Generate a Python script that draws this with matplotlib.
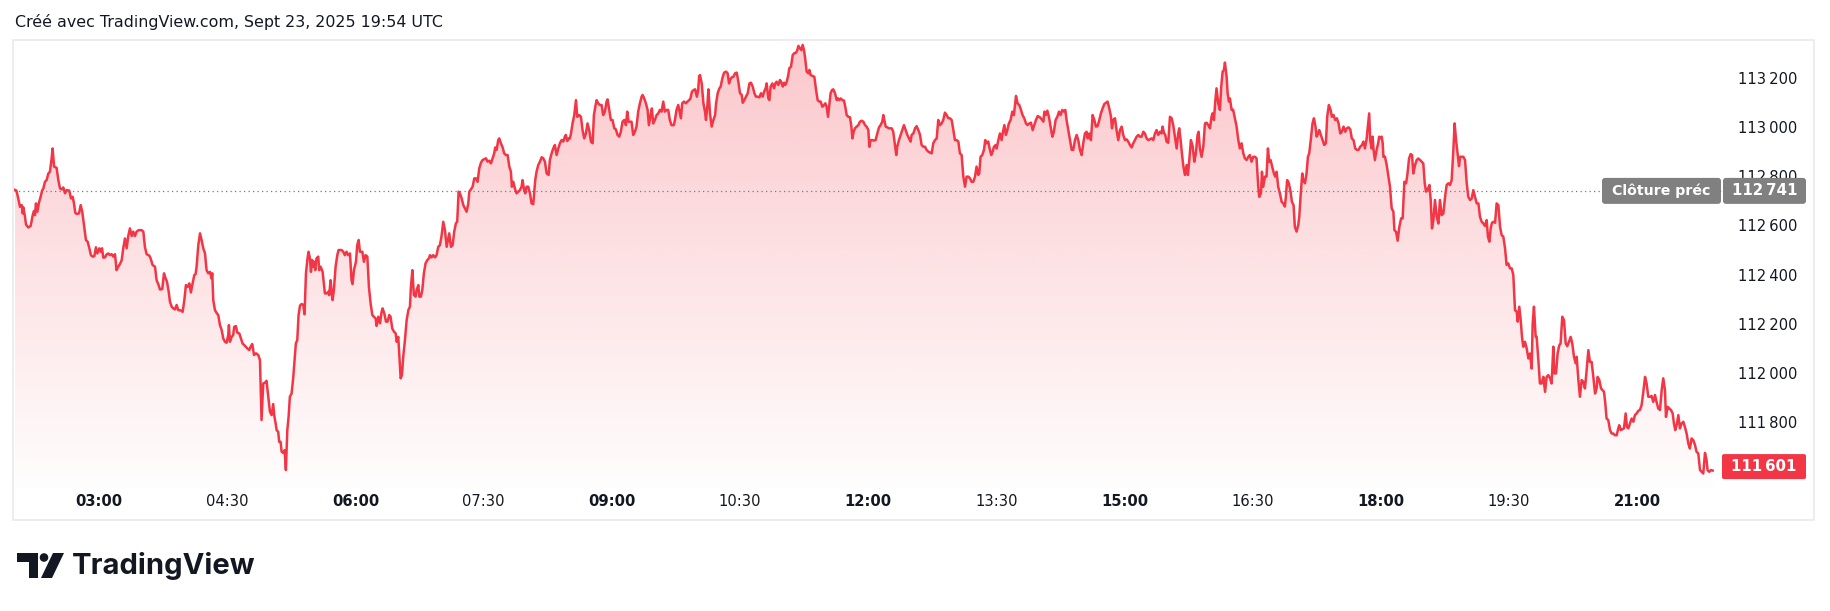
import matplotlib
matplotlib.use("Agg")
import matplotlib.pyplot as plt
import numpy as np
from matplotlib.patches import Rectangle, FancyBboxPatch, Polygon, Circle
from matplotlib.transforms import IdentityTransform

# BTC price, 1-day chart, Sept 23 2025. minutes counted from 02:00 (chart time)
minutes = [
    1, 2, 3, 4.5, 5.7, 6.4, 6.8, 8, 8.7, 10.3,
    12, 13.4, 14.3, 15, 15.7, 16.7, 17.8, 19, 20, 20.9,
    22, 23.2, 24.4, 25.5, 26.7, 27.4, 28.4, 30.2, 31.4, 32.6,
    33.7, 34.9, 36.1, 37.2, 39.1, 40.3, 41.5, 42.4, 43.3, 44.3,
    45.9, 47.1, 48.2, 49.4, 50.8, 52, 53.2, 54.3, 55.5, 56.7,
    57.8, 58.8, 60.2, 61.1, 62.1, 63, 64.2, 65.3, 66.5, 67.7,
    68.8, 70, 71.2, 72.3, 73.5, 74.7, 75.9, 77, 78.2, 79.4,
    80.5, 81.7, 82.9, 84, 85.2, 86.4, 87.8, 89.9, 91.1, 92.2,
    93.4, 95.3, 96.2, 97.6, 99.3, 100.4, 101.6, 102.8, 104.4, 105.6,
    106.5, 107.7, 108.9, 109.8, 111, 112.1, 113.3, 114.5, 115.6, 117.3,
    118.7, 119.9, 121, 122.2, 123.4, 124.5, 125.7, 126.9, 127.8, 128.5,
    129.7, 130.9, 132, 133.2, 134.4, 135.5, 136.7, 137.9, 139, 139.5,
    140.2, 141.4, 142.5, 143.7, 144.9, 146.1, 147.2, 148.4, 149.6, 150.7,
    151.2, 151.9, 153.1, 154.2, 154.9, 156.1, 157.1, 158.5, 159.6, 160.8,
    162.4, 164.1, 165.5, 166.4, 167.6, 168.8, 170.2, 171.8, 173, 173.4,
    174.1, 175.3, 176.5, 177.6, 178.8, 180, 181.2, 182.3, 183, 184,
    184.7, 185.8, 186.5, 187.5, 188.2, 189.3, 190.3, 191.2, 192.2, 193.1,
    194, 195.2, 196.4, 197.5, 198.2, 199.2, 200.1, 201.1, 202.2, 203.4,
    204.3, 205.3, 206.4, 207.1, 208.1, 208.8, 209.7, 210.4, 211.1, 211.8,
    212.7, 213.9, 214.6, 215.6, 217, 218.6, 219.8, 221, 221.6, 222.6,
    223.3, 224, 224.9, 226.1, 227.3, 228.2, 230.3, 231.5, 232.6, 233.8,
    235, 236.2, 237.3, 238, 239, 240.4, 241.3, 242.3,
    243.2, 244.9, 246, 247.2, 248.4, 249.5, 250.7, 251.9, 253, 254.2,
    254.9, 256.1, 257.3, 258.4, 259.1, 260.3, 261.5, 262.6, 263.8, 264.7,
    265.9, 267.1, 268.3, 269, 270.1, 270.8, 271.8, 272.7, 273.6, 274.8,
    276, 277.2, 278.3, 279, 280, 281.1, 282.3, 283, 284.2, 284.9,
    286, 287, 288.1, 289.3, 290.5, 291.7, 292.4, 293.5, 294.7, 295.9,
    297, 298.2, 299.4, 300.6, 301.7, 302.9, 304.1, 305.2, 305.9, 307.1,
    308.3, 309.4, 310.6, 311.5, 312.5, 313.4, 314.6, 315.8, 316.9, 318.1,
    319.3, 320, 321.1, 322.3, 323.5, 324.7, 325.8, 327, 328.2, 329.3,
    330.5, 331.7, 332.8, 334, 335.2, 336.4, 337.5, 338.2, 339.2, 340.3,
    341, 342.2, 343.4, 344.5, 345.7, 346.9, 348.1, 349.2, 349.9, 350.9,
    352, 353.2, 354.4, 355.5, 356.7, 357.4, 358.3, 359.3, 360.2, 361.4,
    362.6, 363.7, 364.9, 365.6, 366.3, 367.2, 368.4, 369.6, 370.8, 371.9,
    373.1, 374.3, 375.7, 376.6, 377.8, 378.9, 380.1, 381.3, 382.5, 383.6,
    384.8, 386, 387.1, 387.8, 388.8, 389.9, 390.6, 391.3, 392.5, 393.7,
    394.9, 395.8, 397.2, 398.4, 399.5, 400.7, 401.9, 403, 404.2, 405.4,
    406.6, 407.5, 408.7, 409.4, 410.5, 411.7, 412.9, 414, 415.2, 416.4,
    417.1, 418.3, 419.4, 420.6, 421.8, 422.9, 424.1, 425.3, 426.4, 427.6,
    428.8, 430, 430.9, 431.8, 432.8, 433.9, 435.1, 436.3, 437.4, 438.6,
    439.8, 441, 441.7, 442.8, 444, 445.2, 446.1, 447.3, 448.2, 449.1,
    450.3, 451.5, 452.7, 453.8, 455, 456.2, 457.3, 458.5, 459.7, 460.8,
    462, 463.6, 464.4, 465.5, 466.7, 467.9, 468.6, 469.5, 470.7, 472.1,
    473.2, 474.4, 475.3, 476.3, 477.5, 478.6, 479.8, 480.7, 481.4,
    482, 483.2, 484.4, 485.5, 486.2, 487.2, 487.9, 489, 490.2, 491.4,
    492.6, 493.3, 494.4, 495.6, 496.5, 497.7, 498.9, 500.3, 501.4, 502.4,
    503.1, 504.3, 505.4, 506.6, 507.8, 508.9, 510.1, 511.3, 512, 513.1,
    514.3, 515.5, 516.7, 517.8, 519, 520.2, 521.3, 522.5, 523.7, 524.8,
    526, 527, 528.1, 528.8, 530, 530.7, 531.6, 532.8, 534, 534.9,
    535.8, 537, 538.2, 538.9, 540.1, 541, 541.9, 542.9, 544, 544.7,
    545.9, 547.1, 548.2, 549.4, 550.3, 551.1, 552.2, 553.2, 554.1, 555,
    555.7, 556.9, 558.1, 558.8, 559.7, 561.1, 562.3, 563.5, 564.6, 565.6,
    566.7, 567.9, 569.1, 570, 570.9, 571.9, 572.8, 573.7, 574.7, 575.6,
    576.8, 578, 578.9, 579.8, 580.8, 581.9, 583.1, 584, 585, 586.2,
    587.3, 588.3, 589, 589.9, 590.8, 592, 593.2, 594.3, 595.5, 596.7,
    597.9, 599, 600.2, 600.9, 601.8, 603, 604.2, 605.3, 606.5, 607.7,
    608.8, 610, 610.7, 611.4, 612.4, 613.5, 614.7, 616.6, 617.7, 618.9,
    619.8, 620.5, 621.7, 622.9, 624.1, 625.2, 626.4, 627.6, 628.7, 629.9,
    630.6, 631.8, 633, 634.1, 635.3, 636.5, 637.6, 638.8, 640, 641.1,
    642.3, 643.5, 644.7, 645.8, 647, 648.2, 649.3, 650.5, 651.7, 652.8,
    654, 655.2, 656.4, 657.5, 658.7, 659.9, 661, 662.2, 663.4, 664.5,
    665.7, 666.9, 668.1, 669.2, 670.4, 671.6, 672.7, 673.9, 675.1, 676.2,
    677.4, 678.1, 679, 680.2, 681.4, 682.3, 683.3, 684.4, 685.6, 686.5,
    687.5, 688.4, 689.6, 690.3, 691.5, 692.6, 693.8, 694.5, 695.7, 696.8,
    697.8, 698.9, 700.1, 701.3, 702.4, 703.2, 703.9, 705, 706.2, 707.4,
    708.5, 709.7, 710.9, 712, 713.2, 714.4, 715.6, 716.7, 717.9, 719.1,
    720.7, 721.9, 723.1, 723.8, 724.9, 725.9, 727, 728.2, 729.4, 730.5,
    731.7, 732.9, 734.1, 735.2, 736.4, 737.6, 738.5, 739.4, 740.6, 741.8,
    743, 744.1, 745.3, 746.5, 747.6, 748.8, 750, 751.1, 752.3, 753.5,
    754.2, 755.4, 756.5, 757.7, 758.9, 760, 761.2, 762.4, 763.5, 764.7,
    765.9, 767.1, 768.2, 769.4, 770.6, 771.3, 772.2, 773.4, 774.5, 775.7,
    776.9, 778.1, 779.2, 780.4, 781.6, 782.7, 783.9, 785.1, 786.2, 787.4,
    788.6, 789.8, 790.9, 792.1, 793.3, 794.4, 795.6, 796.8, 797.9, 799.1,
    800.3, 801.5, 802.6, 803.8, 805, 806.1, 806.8, 807.8, 808.7, 809.6,
    810.8, 812, 813.2, 814.3, 815.5, 816.7, 817.8, 818.5, 819.5, 820.4,
    821.3, 822.5, 823.7, 824.6, 825.6, 826.7, 827.9, 829.1, 830.2, 831.4,
    832.1, 833, 834.2, 835.4, 836.6, 837.7, 838.9, 840.1, 841.2, 841.9,
    842.9, 843.8, 844.7, 845.9, 847.1, 848, 849, 849.9, 850.6, 851.8,
    852.5, 853.4, 854.1, 855.3, 856.4, 857.6, 858.8, 860, 861.1, 862.3,
    863.5, 864.6, 865.8, 867, 868.1, 869.3, 870.5, 871.7, 872.8, 874,
    874.7, 875.9, 876.6, 877.5, 878.7, 879.8, 880.8, 881.7, 882.6, 883.8,
    885, 885.9, 886.9, 888, 889.2, 890.4, 891.5, 892.7, 893.4, 894.3,
    895.5, 896.7, 897.6, 898.8, 899.7, 900.9, 902.1, 902.8, 903.7, 904.9,
    905.6, 906.8, 907.9, 908.9, 909.8, 911, 912.1, 913.1, 914.2, 915,
    916.1, 916.8, 918, 919.2, 920.3, 921.5, 922.4, 923.6, 924.8, 925.7,
    926.9, 928, 929.2, 930.4, 931.6, 932.7, 933.9, 935.1, 936.2, 937.4,
    938.6, 939.7, 940.9, 942.1, 943.3, 944.4, 945.6, 946.8, 947.9, 948.9,
    950, 951.2, 951.9, 952.6, 953.6, 954.3, 955, 955.9, 957.1, 958.2,
    958.9,
    959.5, 960.7, 961.4, 961.9, 963, 964.2, 965.4, 966.5, 967.7, 968.9,
    969.6, 970.8, 971.9, 973.1, 974.3, 975.4, 976.6, 977.8, 978.7, 979.9,
    981, 982, 982.9, 984.1, 985.3, 986.4, 987.6, 988.8, 989.9, 990.9,
    991.8, 993, 994.2, 995.1, 996, 997, 998.1, 999.3, 1000.5, 1001.6,
    1002.8, 1004, 1005.2, 1006.3, 1007.5, 1008.7, 1009.8, 1011, 1011.9, 1012.9,
    1013.8, 1015, 1015.7, 1016.9, 1018, 1019.2, 1020.4, 1021.5, 1022.7, 1023.9,
    1025, 1026.2, 1027.4, 1028.6, 1029.7, 1030.9, 1032.1, 1033.2, 1034.4, 1035.3,
    1036.3, 1037.2, 1038.1, 1039.1, 1040.3, 1041.4, 1042.6, 1043.8, 1044.9, 1046.1,
    1047.3, 1048.4, 1049.6, 1050.8, 1052, 1053.1, 1054.3, 1055.5, 1056.2, 1057.3,
    1058.3, 1059.2, 1060.1, 1061.3, 1062.5, 1063.7, 1064.8, 1066, 1066.7, 1067.6,
    1068.8, 1069.5, 1070.7, 1071.8, 1073, 1074.2, 1075.4, 1076.5, 1077.7, 1078.9,
    1080, 1081.2, 1081.9, 1083.1, 1084.2, 1085.4, 1086.3, 1087.5, 1088.7, 1089.9,
    1091, 1092.2, 1093.4, 1094.5, 1095.7, 1096.9, 1097.6, 1098.8, 1099.9, 1101.1,
    1102.3, 1103.4, 1104.6, 1105.8, 1106.9, 1108.1, 1109.3, 1110.5, 1111.6, 1112.3,
    1113.5, 1114.7, 1115.8, 1116.8, 1117.7, 1118.6, 1119.8, 1121, 1122.2, 1123.3,
    1124.5, 1125.7, 1126.8, 1127.5, 1128.5, 1129.6, 1130.8, 1132, 1132.9, 1133.9,
    1135, 1136.2, 1137.4, 1138.5, 1139.7, 1140.9, 1142, 1143.2, 1144.4, 1145.6,
    1146.7, 1147.9, 1149.1, 1150.2, 1151.4, 1152.6, 1153.7, 1154.9, 1156.1, 1157.3,
    1158.4, 1159.6, 1160.3, 1161.5, 1162.6, 1163.8, 1165, 1165.9, 1166.8, 1167.8,
    1169, 1170.1, 1171.3, 1172.5, 1173.6, 1174.8, 1176, 1177.1, 1178.3, 1179.5,
    1180.7, 1181.8, 1183, 1184.2, 1185.3, 1186.5, 1187.7, 1188.8, 1189.5, 1190.7,
    1191.9, 1193.1,
]

prices = [
    112745, 112742, 112717, 112676, 112683, 112649, 112674, 112636, 112604, 112592,
    112598, 112642, 112659, 112642, 112690, 112656, 112693, 112717, 112742, 112751,
    112778, 112785, 112812, 112819, 112873, 112914, 112840, 112835, 112785, 112751,
    112747, 112755, 112731, 112744, 112742, 112710, 112717, 112690, 112652, 112647,
    112649, 112683, 112656, 112602, 112541, 112534, 112507, 112479, 112473, 112475,
    112511, 112486, 112507, 112493, 112507, 112469, 112470, 112482, 112486, 112479,
    112483, 112473, 112483, 112418, 112432, 112443, 112459, 112507, 112547, 112507,
    112557, 112588, 112557, 112575, 112557, 112575, 112581, 112581, 112575, 112513,
    112483, 112477, 112466, 112439, 112432, 112377, 112361, 112339, 112341, 112405,
    112388, 112371, 112330, 112289, 112269, 112262, 112258, 112276, 112255, 112254,
    112248, 112296, 112357, 112350, 112364, 112327, 112364, 112398, 112402, 112432,
    112520, 112568, 112541, 112507, 112486, 112418, 112405, 112411, 112384, 112405,
    112296, 112255, 112244, 112235, 112194, 112174, 112140, 112126, 112122, 112153,
    112194, 112126, 112146, 112153, 112187, 112190, 112163, 112160, 112140, 112119,
    112110, 112099, 112092, 112106, 112117, 112072, 112079, 112072, 112051, 111956,
    111807, 111956, 111959, 111967, 111902, 111841, 111827, 111872, 111827, 111793,
    111766, 111759, 111718, 111718, 111678, 111673, 111684, 111603, 111766, 111820,
    111902, 111915, 111983, 112065, 112119, 112133, 112235, 112273, 112280, 112276,
    112238, 112405, 112466, 112493, 112466, 112411, 112459, 112432, 112452, 112418,
    112466, 112473, 112418, 112432, 112411, 112323, 112323, 112330, 112316, 112377,
    112330, 112296, 112337, 112432, 112479, 112500, 112500, 112493, 112479, 112493,
    112479, 112486, 112377, 112361, 112418, 112452, 112520, 112541,
    112493, 112493, 112452, 112479, 112473, 112350, 112282, 112235, 112228, 112221,
    112191, 112228, 112201, 112248, 112262, 112242, 112208, 112208, 112235, 112228,
    112180, 112167, 112160, 112126, 112146, 112078, 111977, 111990, 112065, 112133,
    112214, 112255, 112269, 112350, 112418, 112316, 112310, 112337, 112357, 112310,
    112310, 112337, 112405, 112446, 112459, 112466, 112479, 112470, 112479, 112470,
    112479, 112513, 112520, 112561, 112615, 112581, 112513, 112547, 112568, 112513,
    112520, 112575, 112609, 112615, 112738, 112731, 112711, 112683, 112670, 112656,
    112690, 112738, 112747, 112758, 112792, 112792, 112778, 112833, 112856, 112867,
    112870, 112874, 112860, 112864, 112853, 112874, 112894, 112918, 112908, 112948,
    112955, 112935, 112918, 112894, 112887, 112887, 112840, 112819, 112758, 112778,
    112751, 112731, 112738, 112744, 112758, 112785, 112751, 112731, 112758, 112758,
    112731, 112690, 112687, 112738, 112785, 112819, 112846, 112860, 112878, 112874,
    112860, 112812, 112806, 112867, 112894, 112914, 112928, 112887, 112914, 112935,
    112948, 112942, 112962, 112969, 112944, 112955, 112955, 112971, 113016, 113050,
    113111, 113043, 113050, 113043, 112989, 112955, 112975, 113016, 112989, 112942,
    112935, 113050, 113091, 113111, 113098, 113091, 113091, 113050, 113064, 113105,
    113114, 113071, 113030, 113030, 112996, 112992, 112969, 112962, 112982, 113023,
    113030, 113009, 113064, 113023, 113023, 113023, 112969, 112982, 113003, 113064,
    113098, 113125, 113132, 113118, 113098, 113071, 113009, 113050, 113077, 113016,
    113030, 113050, 113057, 113071, 113064, 113105, 113064, 113071, 113071, 113030,
    113009, 113009, 113030, 113071, 113091, 113057, 113037, 113098, 113105, 113098,
    113105, 113111, 113118, 113145, 113152, 113155, 113125, 113152, 113209,
    113213, 113179, 113098, 113064, 113030, 113091, 113155, 113057, 113003, 113030,
    113050, 113098, 113139, 113159, 113166, 113200, 113223, 113227, 113220, 113179,
    113193, 113204, 113206, 113220, 113223, 113186, 113139, 113132, 113100, 113111,
    113125, 113139, 113179, 113182, 113166, 113139, 113125, 113125, 113122, 113139,
    113125, 113145, 113159, 113179, 113118, 113111, 113166, 113179, 113159, 113179,
    113186, 113173, 113193, 113186, 113166, 113182, 113173, 113186, 113213, 113241,
    113247, 113295, 113302, 113304, 113315, 113332, 113322, 113315, 113336, 113315,
    113288, 113227, 113220, 113234, 113213, 113209, 113206, 113152, 113111, 113105,
    113105, 113084, 113091, 113098, 113084, 113043, 113091, 113139, 113152, 113155,
    113139, 113111, 113118, 113111, 113118, 113111, 113109, 113084, 113050, 113043,
    113041, 113003, 112955, 112982, 112996, 113003, 113009, 113023, 113027, 113023,
    113009, 113003, 112989, 112921, 112948, 112948, 112946, 112948, 112975, 113000,
    113009, 113023, 113050, 113030, 113003, 113000, 112996, 112996, 112982, 112928,
    112887, 112921, 112948, 112969, 112989, 113009, 112989, 112969, 112955, 112942,
    112969, 112975, 112996, 113005, 112989, 112969, 112928, 112921, 112921, 112908,
    112901, 112897, 112894, 112935, 112948, 112955, 113030, 113009, 113016, 113030,
    113060, 113050, 113037, 113037, 113030, 112989, 112948, 112948, 112942, 112894,
    112887, 112799, 112758, 112799, 112799, 112792, 112778, 112778, 112799, 112840,
    112806, 112812, 112880, 112887, 112908, 112948, 112935, 112942, 112908, 112887,
    112901, 112921, 112928, 112914, 112948, 112975, 112948, 112975, 113009, 112969,
    112989, 113016, 113030, 113064, 113050, 113091, 113128, 113098, 113091, 113071,
    113050, 113037, 113016, 113009, 113016, 113019, 112989, 113009, 113030, 113046,
    113041, 113033, 113023, 113064, 113050, 113068, 113043, 113003, 112962, 112982,
    113030, 113043, 113064, 113050, 113071, 113064, 113071, 113030, 112989, 112948,
    112908, 112908, 112948, 112969, 112948, 112908, 112887, 112935, 112975, 112982,
    112955, 112975, 112948, 113050, 113030, 113003, 113005, 113030, 113057, 113077,
    113095, 113100, 113105, 113077, 113043, 112996, 113030, 113037, 112989, 112948,
    112989, 113003, 112969, 112948, 112951, 112942, 112928, 112918, 112935, 112948,
    112962, 112969, 112962, 112962, 112982, 112975, 112955, 112948, 112951, 112955,
    112948, 112975, 112989, 112969, 112982, 112975, 113003, 112978, 112969, 112942,
    112937, 113043, 113037, 113009, 112962, 112914, 112975, 112996, 112948, 112894,
    112846, 112806, 112846, 112806, 112867, 112948, 112924, 112860, 112894, 112969,
    112982, 112914, 112880, 112921, 113016, 113019, 113009, 112996, 113043, 113057,
    113030, 113105, 113159, 113098, 113071, 113166, 113227, 113234, 113264, 113206,
    113139, 113105, 113118, 113071, 113071, 113037, 113003, 112948, 112914, 112935,
    112894, 112874, 112867, 112880, 112887, 112860, 112880, 112880, 112874, 112758,
    112717, 112731, 112819, 112758, 112799, 112799, 112914, 112860, 112867, 112840,
    112812, 112799, 112819, 112758, 112731, 112697, 112690, 112677, 112717, 112785,
    112772, 112738, 112697, 112683, 112595, 112575, 112602, 112636, 112717, 112812,
    112785, 112772, 112812, 112880, 112894, 112955, 113016, 113037, 113003, 112962,
    112975, 112989, 112969, 112948, 112928, 112935, 113043, 113091, 113071, 113043,
    113050, 113030, 113037, 113016, 112975, 112982, 113003, 112982, 112996, 113000,
    112992, 112955, 112948, 112914, 112908, 112908, 112921, 112928, 112942, 112914,
    112948, 113016, 113057, 112948, 112914, 112962, 112908, 112867, 112908, 112935,
    112962,
    112955, 112962, 112935, 112880, 112880, 112846, 112799, 112758, 112670, 112656,
    112581, 112574, 112538, 112595, 112629, 112629, 112778, 112772, 112806, 112873,
    112891, 112887, 112812, 112846, 112867, 112873, 112867, 112860, 112853, 112772,
    112738, 112747, 112765, 112704, 112588, 112622, 112704, 112636, 112608, 112704,
    112642, 112649, 112717, 112765, 112772, 112765, 112785, 112907, 113016, 112948,
    112901, 112842, 112880, 112880, 112880, 112867, 112772, 112717, 112704, 112710,
    112744, 112717, 112690, 112690, 112636, 112615, 112608, 112598, 112622, 112554,
    112534, 112588, 112611, 112615, 112611, 112690, 112683, 112595, 112561, 112554,
    112507, 112439, 112445, 112425, 112425, 112398, 112255, 112248, 112208, 112269,
    112214, 112146, 112106, 112126, 112099, 112058, 112078, 112017, 112201, 112269,
    112146, 112146, 112051, 111956, 111956, 111983, 111922, 111983, 111990, 111977,
    111956, 112106, 111997, 111997, 112078, 112112, 112119, 112228, 112214, 112119,
    112108, 112126, 112146, 112119, 112065, 112038, 112065, 111970, 111902, 111970,
    111963, 111936, 112010, 112092, 112044, 112044, 111983, 111915, 111936, 111983,
    111970, 111936, 111929, 111922, 111875, 111813, 111807, 111766, 111752, 111752,
    111745, 111745, 111773, 111786, 111766, 111769, 111773, 111834, 111779, 111773,
    111793, 111813, 111800, 111827, 111834, 111845, 111848, 111868, 111922, 111983,
    111956, 111902, 111902, 111905, 111881, 111909, 111881, 111854, 111848, 111929,
    111977, 111929, 111820, 111861, 111854, 111848, 111834, 111793, 111766, 111786,
    111827, 111773, 111793, 111800, 111779, 111752, 111711, 111691, 111732, 111725,
    111705, 111677, 111671, 111603, 111596, 111589, 111673, 111644, 111603, 111596,
    111603, 111601,
]

prev_close = 112741
last_price = 111601
y_ticks = [111800, 112000, 112200, 112400, 112600, 112800, 113000, 113200]
x_tick_minutes = [60, 150, 240, 330, 420, 510, 600, 690, 780, 870, 960, 1050, 1140]
x_tick_labels = ["03:00", "04:30", "06:00", "07:30", "09:00", "10:30", "12:00",
                 "13:30", "15:00", "16:30", "18:00", "19:30", "21:00"]

W, H = 1830, 611
RED = "#F23645"
TXT = "#131722"


def fmt(v):
    return f"{v:,}".replace(",", "\u202f")


fig = plt.figure(figsize=(W / 100, H / 100), dpi=100)
fig.patch.set_facecolor("white")
plt.rcParams["font.family"] = ["DejaVu Sans"]

# pane: x 13.6..1722.5 px, y 40..488 px (top-down)
ax = fig.add_axes([13.6 / W, 1 - 488 / H, (1722.5 - 13.6) / W, (488 - 40) / H])
ax.set_facecolor("none")

t = np.array(minutes)
p = np.array(prices)
y0, y1 = 111530, 113356

band = ax.fill_between(t, p, y0, facecolor="none", edgecolor="none")
n = 256
grad = np.zeros((n, 1, 4))
grad[:, 0, :3] = np.array([242, 54, 69]) / 255
grad[:, 0, 3] = np.linspace(0.01, 0.28, n)
img = ax.imshow(grad, extent=[0, 1200, y0, y1], origin="lower", aspect="auto",
                interpolation="bilinear", zorder=1)
img.set_clip_path(band.get_paths()[0], transform=ax.transData)

ax.plot(t, p, color=RED, lw=1.8, zorder=3, solid_joinstyle="round")
ax.hlines(prev_close, 0, 1200, colors="#787B86", lw=0.9, linestyles=(0, (1, 2.6)), zorder=2)

ax.set_xlim(0, 1200)
ax.set_ylim(y0, y1)
for s in ax.spines.values():
    s.set_visible(False)

ax.yaxis.tick_right()
ax.set_yticks(y_ticks, [fmt(v) for v in y_ticks])
ax.tick_params(axis="y", length=0, pad=11, labelsize=10.6, labelcolor=TXT)
ax.set_xticks(x_tick_minutes, x_tick_labels)
ax.tick_params(axis="x", length=0, pad=4.5, labelsize=10.6, labelcolor=TXT)
for lab in ax.get_xticklabels():
    if lab.get_text().endswith(":00"):
        lab.set_fontweight("bold")

# outer frame
fig.add_artist(Rectangle((13, H - 520), 1801, 480, fill=False, ec="#E6E8EC", lw=1.1,
                         transform=IdentityTransform(), zorder=5))

# previous close label
yd = ax.transData.transform((0, prev_close))[1]
fig.add_artist(FancyBboxPatch((1602, yd - 13), 119, 26, boxstyle="round,pad=0,rounding_size=3",
                              fc="#808080", ec="none", transform=IdentityTransform(), zorder=6))
fig.add_artist(FancyBboxPatch((1723, yd - 13), 83, 26, boxstyle="round,pad=0,rounding_size=3",
                              fc="#808080", ec="none", transform=IdentityTransform(), zorder=6))
fig.text(1661.5 / W, yd / H, "Clôture préc", color="white", fontsize=10.2, fontweight="bold",
         ha="center", va="center", zorder=7)
fig.text(1764.5 / W, yd / H, fmt(prev_close), color="white", fontsize=10.8, fontweight="bold",
         ha="center", va="center", zorder=7)

# last price label
yl = ax.transData.transform((0, last_price))[1] + 4
fig.add_artist(FancyBboxPatch((1722, yl - 12.5), 84, 25, boxstyle="round,pad=0,rounding_size=2",
                              fc=RED, ec="none", transform=IdentityTransform(), zorder=6))
fig.text(1764 / W, yl / H, fmt(last_price), color="white", fontsize=10.8, fontweight="bold",
         ha="center", va="center", zorder=7)

# header
fig.text(15 / W, 1 - 22 / H, "Créé avec TradingView.com, Sept 23, 2025 19:54 UTC",
         fontsize=11.4, color=TXT, ha="left", va="center")

# logo
def P(x, y):
    return (x, H - y)

logo = [
    Polygon([P(17, 553), P(38, 553), P(38, 578), P(29, 578), P(29, 562), P(17, 562)], closed=True),
    Circle(P(44, 557.5), 4.3),
    Polygon([P(53, 553), P(64, 553), P(52, 578), P(41, 578)], closed=True),
]
for a in logo:
    a.set_facecolor(TXT)
    a.set_edgecolor("none")
    a.set_transform(IdentityTransform())
    fig.add_artist(a)
fig.text(72 / W, 1 - 566 / H, "TradingView", fontsize=21, fontweight="bold", color=TXT,
         family=["Inter", "DejaVu Sans"], ha="left", va="center")

fig.savefig("out.png", dpi=100)
